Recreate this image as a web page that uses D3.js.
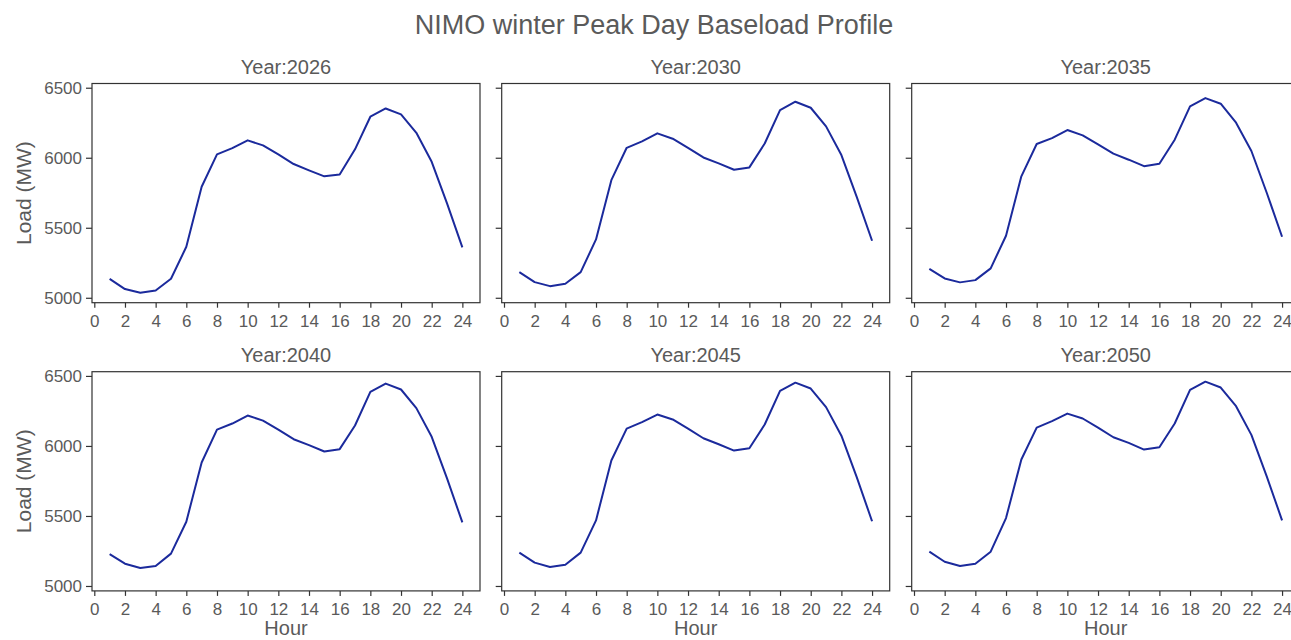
<!DOCTYPE html>
<html>
<head>
<meta charset="utf-8">
<script src="https://cdn.jsdelivr.net/npm/d3@7"></script>
<style>
  html, body { margin: 0; padding: 0; background: #fff; }
  svg { display: block; font-family: "Liberation Sans", Arial, sans-serif; }
</style>
</head>
<body>
<svg id="chart" width="1291" height="640"></svg>
<script>
// Hourly baseload (MW) on the winter peak day, one array per study year
const hours = d3.range(1, 25);
const years = ["2026", "2030", "2035", "2040", "2045", "2050"];

const load2026 = [5135, 5062, 5036, 5052, 5136, 5364, 5793, 6024, 6069, 6124, 6088, 6024,
                  5955, 5910, 5867, 5881, 6060, 6293, 6352, 6310, 6178, 5971, 5674, 5360];
const load2030 = [5183, 5112, 5083, 5100, 5183, 5417, 5840, 6071, 6117, 6174, 6136, 6071,
                  6002, 5960, 5914, 5931, 6102, 6340, 6400, 6357, 6224, 6019, 5721, 5407];
const load2035 = [5207, 5138, 5110, 5126, 5210, 5443, 5867, 6098, 6140, 6198, 6160, 6095,
                  6029, 5986, 5940, 5957, 6129, 6367, 6426, 6386, 6250, 6048, 5750, 5436];
const load2040 = [5228, 5159, 5128, 5143, 5231, 5459, 5882, 6117, 6160, 6217, 6181, 6117,
                  6048, 6006, 5960, 5977, 6146, 6386, 6445, 6403, 6270, 6065, 5768, 5454];
const load2045 = [5238, 5167, 5136, 5152, 5238, 5468, 5896, 6124, 6170, 6224, 6189, 6124,
                  6055, 6012, 5967, 5984, 6153, 6393, 6452, 6410, 6277, 6073, 5778, 5462];
const load2050 = [5245, 5173, 5143, 5159, 5245, 5485, 5903, 6131, 6177, 6231, 6196, 6131,
                  6062, 6022, 5974, 5991, 6160, 6400, 6459, 6417, 6284, 6079, 5782, 5469];

const series = [load2026, load2030, load2035, load2040, load2045, load2050];

const xTicks = d3.range(0, 25, 2);
const yTicks = [5000, 5500, 6000, 6500];

const chartTitle = "NIMO winter Peak Day Baseload Profile";
const yLabel = "Load (MW)";
const xLabel = "Hour";

// Panel grid
const colLeft = [92, 501.7, 911.7];
const rowTop = [83.5, 371.7];
const panelW = 388;
const panelH = 219.2;

const textColor = "#5a5a5a";
const spineColor = "#333333";
const lineColor = "#1b2a9c";

const svg = d3.select("#chart");

// Shared axes with 5% padding around the data
const xExt = d3.extent(hours);
const xPad = (xExt[1] - xExt[0]) * 0.05;
const allVals = series.flat();
const yExt = d3.extent(allVals);
const yPad = (yExt[1] - yExt[0]) * 0.05;

const x = d3.scaleLinear().domain([xExt[0] - xPad, xExt[1] + xPad]).range([0, panelW]);
const y = d3.scaleLinear().domain([yExt[0] - yPad, yExt[1] + yPad]).range([panelH, 0]);

const line = d3.line().x((d, i) => x(hours[i])).y(d => y(d));

svg.append("text")
  .attr("x", 654).attr("y", 34)
  .attr("text-anchor", "middle")
  .attr("fill", textColor)
  .style("font-size", "27px")
  .text(chartTitle);

series.forEach((vals, k) => {
  const col = k % 3, row = Math.floor(k / 3);
  const g = svg.append("g").attr("transform", `translate(${colLeft[col]},${rowTop[row]})`);

  // x axis
  const gx = g.append("g").attr("transform", `translate(0,${panelH})`)
    .call(d3.axisBottom(x).tickValues(xTicks).tickSize(5).tickPadding(3).tickFormat(d3.format("d")));
  gx.select(".domain").remove();
  gx.selectAll(".tick line").attr("stroke", spineColor).attr("stroke-width", 1.2);
  gx.selectAll(".tick text").attr("fill", textColor).style("font-size", "17px")
    .attr("dy", null).attr("y", 24);

  // y axis (labels only on the first column)
  const gy = g.append("g")
    .call(d3.axisLeft(y).tickValues(yTicks).tickSize(6).tickPadding(4)
      .tickFormat(col === 0 ? d3.format("d") : () => ""));
  gy.select(".domain").remove();
  gy.selectAll(".tick line").attr("stroke", spineColor).attr("stroke-width", 1.2);
  gy.selectAll(".tick text").attr("fill", textColor).style("font-size", "17px");

  // frame
  g.append("rect")
    .attr("width", panelW).attr("height", panelH)
    .attr("fill", "none").attr("stroke", spineColor).attr("stroke-width", 1.2);

  // profile
  g.append("path")
    .datum(vals)
    .attr("d", line)
    .attr("fill", "none")
    .attr("stroke", lineColor)
    .attr("stroke-width", 2)
    .attr("stroke-linejoin", "round");

  // panel title
  g.append("text")
    .attr("x", panelW / 2).attr("y", -10)
    .attr("text-anchor", "middle")
    .attr("fill", textColor)
    .style("font-size", "20px")
    .text("Year:" + years[k]);

  if (col === 0) {
    g.append("text")
      .attr("transform", `translate(${31 - colLeft[0]},${panelH / 2}) rotate(-90)`)
      .attr("text-anchor", "middle")
      .attr("fill", textColor)
      .style("font-size", "21px")
      .text(yLabel);
  }
  if (row === 1) {
    g.append("text")
      .attr("x", panelW / 2).attr("y", panelH + 44)
      .attr("text-anchor", "middle")
      .attr("fill", textColor)
      .style("font-size", "20px")
      .text(xLabel);
  }
});
</script>
</body>
</html>
